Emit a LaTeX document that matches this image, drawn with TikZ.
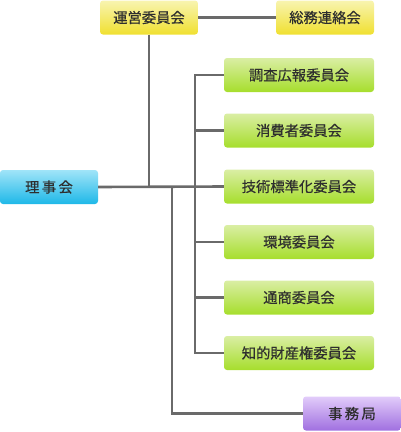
\documentclass[tikz,border=0pt]{standalone}
\usepackage{fontspec}
\newfontfamily\jpfont[FakeBold=0.6]{Noto Sans CJK JP}
\definecolor{linegray}{HTML}{6A6A6A}
\definecolor{txtgray}{HTML}{2E2E2E}
\tikzset{
  box/.style={rounded corners=3pt,minimum height=34pt,inner sep=0pt,
    font=\jpfont\fontsize{14.3}{16}\selectfont,text=txtgray},
  ybox/.style={box,minimum width=98pt,top color={rgb,255:red,248;green,244;blue,176},bottom color={rgb,255:red,240;green,224;blue,48}},
  gbox/.style={box,minimum width=150pt,top color={rgb,255:red,218;green,238;blue,164},bottom color={rgb,255:red,166;green,222;blue,44}},
  bbox/.style={box,minimum width=98pt,top color={rgb,255:red,160;green,228;blue,248},bottom color={rgb,255:red,30;green,184;blue,232}},
  pbox/.style={box,minimum width=98pt,top color={rgb,255:red,226;green,204;blue,250},bottom color={rgb,255:red,160;green,112;blue,224}},
  conn/.style={draw=linegray,line width=2.6pt}
}
\begin{document}
\begin{tikzpicture}[x=1pt,y=-1pt]
  \useasboundingbox (0,0) rectangle (401,432);
  % boxes
  \node[bbox] (riji) at (49,187) {理\,事\,会};
  \node[ybox] (unei) at (149,17.5) {運営委員会};
  \node[ybox] (somu) at (325,17.5) {総務連絡会};
  \node[gbox] (chosa) at (299,75) {調査広報委員会};
  \node[gbox] (shohi) at (299,130.5) {消費者委員会};
  \node[gbox] (gijutsu) at (299,186.5) {技術標準化委員会};
  \node[gbox] (kankyo) at (299,242) {環境委員会};
  \node[gbox] (tsusho) at (299,297.5) {通商委員会};
  \node[gbox] (chizai) at (299,353) {知的財産権委員会};
  \node[pbox] (jimu) at (352,413.5) {事\,務\,局};
  \coordinate (busx) at (195,0);
  \coordinate (jimux) at (172,0);
  % lines
  \draw[conn] (unei.east) -- (somu.west);
  \draw[conn] (riji.east) -- (gijutsu.west);
  \draw[conn] (unei.south) -- (unei.south |- riji.east);
  \draw[conn] (chosa.west) -| (busx |- chizai.west) -- (chizai.west);
  \draw[conn] (shohi.west) -- (shohi.west -| busx);
  \draw[conn] (kankyo.west) -- (kankyo.west -| busx);
  \draw[conn] (tsusho.west) -- (tsusho.west -| busx);
  \draw[conn] (jimux |- riji.east) |- (jimu.west);
\end{tikzpicture}
\end{document}
